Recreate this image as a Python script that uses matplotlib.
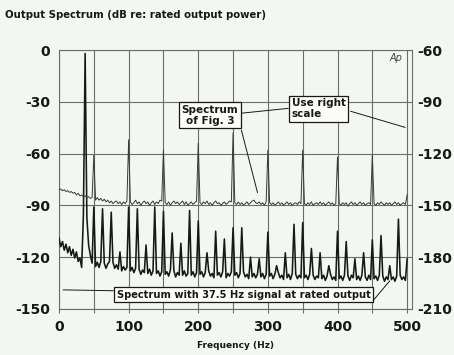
import numpy as np
import matplotlib.pyplot as plt

# "Spectrum of Fig. 3" trace, read against the right scale, 2.5 Hz steps 0..500 Hz
fig3_floor = [
    -141.0, -140.5, -141.5, -141.0, -142.0, -141.5, -142.5, -142.0, -143.0, -142.5,
    -144.0, -143.0, -144.5, -144.0, -145.0, -144.5, -145.5, -145.0, -146.0, -145.5,
    -146.5, -147.0, -145.5, -147.0, -146.0, -147.5, -146.5, -148.0, -147.0, -148.5,
    -147.5, -149.0, -148.0, -147.5, -149.0, -148.0, -149.5, -148.0, -149.0, -147.5,
    -146.5, -148.0, -149.5, -148.5, -147.0, -149.0, -148.0, -150.0, -148.5, -147.5,
    -149.0, -148.0, -150.0, -148.5, -147.5, -149.5, -148.0, -149.0, -147.0, -147.5,
    -146.0, -148.5, -149.5, -148.0, -150.0, -148.5, -147.5, -149.0, -148.0, -149.5,
    -148.5, -147.5, -149.5, -148.0, -150.0, -149.0, -148.0, -149.5, -148.5, -147.5,
    -146.5, -148.5, -149.5, -148.0, -149.0, -147.5, -149.5, -148.5, -150.0, -148.5,
    -147.5, -149.0, -148.5, -150.0, -149.0, -148.0, -149.5, -148.5, -147.5, -148.0,
    -146.5, -148.5, -149.5, -148.0, -149.5, -148.5, -150.0, -149.0, -148.0, -149.5,
    -148.5, -147.5, -147.0, -148.5, -149.0, -148.0, -149.5, -148.5, -150.0, -148.0,
    -147.0, -148.5, -149.5, -148.5, -150.0, -149.0, -148.0, -149.5, -148.5, -150.0,
    -149.0, -148.0, -149.5, -148.5, -150.0, -149.0, -148.5, -149.5, -148.0, -149.0,
    -147.5, -149.0, -150.0, -148.5, -149.5, -148.0, -150.0, -149.0, -148.5, -149.5,
    -148.0, -149.5, -148.5, -150.0, -149.0, -148.0, -149.5, -148.5, -150.0, -149.0,
    -147.5, -149.0, -150.0, -148.5, -149.5, -148.5, -150.5, -149.0, -148.0, -149.5,
    -148.5, -150.0, -149.0, -148.0, -149.5, -148.5, -150.0, -149.0, -148.5, -149.5,
    -147.5, -149.0, -150.0, -148.5, -149.5, -148.0, -149.0, -150.0, -148.5, -149.5,
    -148.5, -150.0, -149.0, -148.0, -149.5, -148.5, -150.0, -149.0, -148.5, -149.5,
    -148.5,
]
fig3_spike_hz = [50, 100, 150, 200, 250, 300, 350, 400, 450, 500]
fig3_spike_db = [-121, -112, -118, -114, -108, -118, -118, -122, -121, -144]

# 37.5 Hz signal trace, left scale, 2.5 Hz steps 0..500 Hz
sig_floor = [
    -109.0, -114.0, -111.0, -116.0, -112.5, -117.5, -114.0, -119.0, -115.5, -120.5,
    -117.0, -122.5, -120.5, -126.0, -96.0, -95.0, -97.0, -113.0, -119.0, -123.5,
    -122.0, -125.5, -123.0, -126.0, -122.5, -125.0, -123.5, -126.5, -124.0, -122.5,
    -125.5, -123.0, -126.5, -124.5, -127.0, -125.0, -128.0, -125.5, -127.5, -126.0,
    -124.5, -128.0, -126.0, -129.0, -126.5, -128.5, -127.0, -130.0, -127.5, -129.0,
    -126.5, -129.5, -127.0, -130.5, -128.0, -126.5, -129.5, -128.0, -131.0, -128.5,
    -127.0, -130.0, -128.5, -131.0, -127.5, -129.5, -128.0, -131.5, -129.0, -130.5,
    -127.5, -130.5, -128.0, -131.0, -129.5, -127.5, -130.5, -128.5, -131.5, -129.0,
    -127.0, -130.0, -128.5, -131.5, -129.0, -130.5, -128.0, -131.0, -129.5, -132.0,
    -128.0, -130.5, -129.0, -131.5, -128.5, -130.0, -132.0, -129.5, -131.0, -128.5,
    -127.5, -130.5, -129.0, -132.0, -129.5, -131.0, -128.5, -131.5, -130.0, -132.5,
    -129.0, -131.5, -129.5, -132.0, -130.0, -128.5, -131.5, -129.5, -132.5, -130.0,
    -128.0, -131.0, -129.5, -132.5, -130.0, -131.5, -129.0, -132.0, -130.5, -133.0,
    -129.5, -132.0, -130.0, -133.0, -129.5, -131.5, -130.0, -132.5, -130.5, -132.0,
    -129.0, -132.0, -130.5, -133.0, -130.0, -132.5, -130.5, -133.0, -131.0, -132.0,
    -130.0, -132.5, -130.5, -133.5, -131.0, -132.0, -130.0, -133.0, -131.5, -133.5,
    -129.5, -132.5, -131.0, -133.5, -130.5, -132.5, -131.0, -133.5, -130.5, -132.0,
    -130.0, -133.0, -131.0, -133.5, -130.5, -132.5, -131.5, -133.5, -130.5, -133.0,
    -129.5, -132.5, -131.0, -133.5, -130.5, -133.0, -131.0, -134.0, -131.5, -133.0,
    -130.5, -133.0, -131.5, -134.0, -131.0, -133.5, -130.5, -133.0, -131.5, -133.5,
    -130.0,
]
sig_spike_hz = [37.5, 50, 62.5, 75, 87.5, 100, 112.5, 125, 137.5, 150, 162.5, 175,
                187.5, 200, 212.5, 225, 237.5, 250, 262.5, 275, 287.5, 300, 312.5,
                325, 337.5, 350, 362.5, 375, 387.5, 400, 412.5, 425, 437.5, 450,
                462.5, 475, 487.5, 500]
sig_spike_db = [-2, -91, -92, -94, -117, -91, -92, -113, -91, -93.5, -106, -112,
                -93, -99, -117.5, -105, -109.5, -103, -103, -120, -121, -105.5, -125,
                -117.5, -101, -100, -115, -117.5, -125, -105, -111, -121, -117.5, -110,
                -107.5, -125, -98, -121]

step = 2.5
freq = np.arange(len(sig_floor)) * step

fig3 = np.array(fig3_floor)
for f, v in zip(fig3_spike_hz, fig3_spike_db):
    fig3[int(round(f / step))] = v
sig = np.array(sig_floor)
for f, v in zip(sig_spike_hz, sig_spike_db):
    sig[int(round(f / step))] = v

bg = '#f4f6f3'
ink = '#151a17'
plt.rcParams['font.family'] = ['DejaVu Sans']
plt.rcParams['axes.unicode_minus'] = False

fig = plt.figure(figsize=(4.54, 3.55), dpi=100, facecolor=bg)
ax = fig.add_axes([0.130, 0.130, 0.7775, 0.729])
ax.set_facecolor(bg)
ax.set_xlim(0, 507)
ax.set_ylim(-150, 0)

ax.set_xticks(np.arange(0, 501, 50))
ax.set_xticklabels(['0', '', '100', '', '200', '', '300', '', '400', '', '500'])
ax.set_yticks([0, -30, -60, -90, -120, -150])
ax.grid(True, color='#6a6e6b', lw=0.8)
ax.tick_params(axis='x', length=3, color='#6a6e6b', pad=5, labelsize=10)
ax.tick_params(axis='y', length=0, pad=6.5, labelsize=10)
for lab in ax.get_xticklabels() + ax.get_yticklabels():
    lab.set_fontweight('bold')
    lab.set_color(ink)
for s in ax.spines.values():
    s.set_color('#6a6e6b')
    s.set_linewidth(0.8)

ax2 = ax.twinx()
ax2.set_ylim(-210, -60)
ax2.set_yticks([-60, -90, -120, -150, -180, -210])
ax2.tick_params(axis='y', length=0, pad=4, labelsize=10)
for lab in ax2.get_yticklabels():
    lab.set_fontweight('bold')
    lab.set_color(ink)
for s in ax2.spines.values():
    s.set_visible(False)

ax.plot(freq, sig, color=ink, lw=1.15, zorder=3)
ax2.plot(freq, fig3, color='#353a37', lw=0.7, zorder=3)

box = dict(boxstyle='square,pad=0.25', fc='#fbfcfa', ec=ink, lw=0.9)
ax.text(217, -37.8, 'Spectrum\nof Fig. 3', fontsize=7.5, fontweight='bold', color=ink,
        ha='center', va='center', linespacing=1.1, bbox=box, zorder=5)
ax.plot([262, 329], [-36.6, -33.8], color=ink, lw=0.7, zorder=4)
ax.plot([262, 285], [-46.5, -82.5], color=ink, lw=0.7, zorder=4)

ax.text(334, -34, 'Use right\nscale', fontsize=7.5, fontweight='bold', color=ink,
        ha='left', va='center', linespacing=1.1, bbox=box, zorder=5)
ax.plot([419, 497], [-35.5, -44.8], color=ink, lw=0.7, zorder=4)

ax.text(265, -141.9, 'Spectrum with 37.5 Hz signal at rated output', fontsize=7.1,
        fontweight='bold', color=ink, ha='center', va='center', bbox=box, zorder=5)
ax.plot([6, 78], [-139.0, -139.5], color=ink, lw=0.7, zorder=4)
ax.plot([452, 475], [-144.8, -133.8], color=ink, lw=0.7, zorder=4)

ax.text(484, -4.7, 'Ap', fontsize=7, style='italic', color='#444', ha='center', va='center')

fig.text(0.011, 0.958, 'Output Spectrum (dB re: rated output power)', fontsize=7.3,
         fontweight='bold', color=ink, ha='left', va='center')
ax.set_xlabel('Frequency (Hz)', fontsize=6.5, fontweight='bold', color=ink, labelpad=5)

fig.savefig('out.png', dpi=100, facecolor=bg)
